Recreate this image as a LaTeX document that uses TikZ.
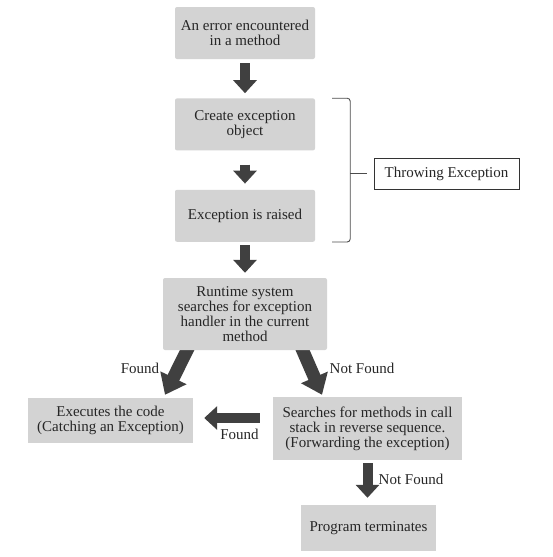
\documentclass[tikz,border=0pt]{standalone}
\usepackage{fontspec}
\setmainfont{Liberation Serif}
\usetikzlibrary{arrows.meta, positioning, backgrounds}

\definecolor{boxgray}{HTML}{D3D3D3}
\definecolor{arrgray}{HTML}{404040}

\begin{document}
\begin{tikzpicture}[x=1pt, y=-1pt,
	node distance=39pt,
	font=\fontsize{15}{15}\selectfont,
	box/.style = {fill=boxgray, text=black!85, align=center, inner sep=0pt,
		minimum width=140pt, minimum height=52pt, rounded corners=2pt},
	sqbox/.style = {box, rounded corners=0pt},
	fat/.style = {draw=arrgray, line width=10pt, -{Triangle[width=23pt, length=13pt]}},
	fatter/.style = {draw=arrgray, line width=13pt, -{Triangle[width=28pt, length=19pt]}},
	brace/.style = {draw=black!70, line width=0.9pt},
	lbl/.style = {text=black!85, inner sep=0pt}
	]
\useasboundingbox (0,0) rectangle (552,557);
%
		\node[box] (err) at (245,33) {An error encountered\\in a method};
		\node[box] (crt) [below=of err] {Create exception\\object};
		\node[box] (rsd) [below=of crt] {Exception is raised};
		\node[box, minimum width=164pt, minimum height=72pt] (run) at (245,314)
			{Runtime system\\searches for exception\\handler in the current\\method};
		\node[sqbox, minimum width=165pt, minimum height=45pt] (exec) at (110.5,420.5)
			{Executes the code\\(Catching an Exception)};
		\node[sqbox, minimum width=189pt, minimum height=63pt] (srch) at (367.5,428.5)
			{Searches for methods in call\\stack in reverse sequence.\\(Forwarding the exception)};
		\node[sqbox, minimum width=135pt, minimum height=46pt] (term) at (368.5,528)
			{Program terminates};
		\node[draw=black!80, line width=0.8pt, text=black!85, inner sep=0pt,
			minimum width=145pt, minimum height=31pt] (thr) at (446.5,173.5) {Throwing Exception};
%
		\draw[fat, shorten <=4pt, shorten >=5pt] (err) -- (crt);
		\draw[fat, shorten <=14pt, shorten >=6pt] (crt) -- (rsd);
		\draw[fat, shorten <=3pt, shorten >=5pt] (rsd) -- (run);
%
		\begin{pgfonlayer}{background}
		\draw[fatter] ([xshift=-55pt, yshift=6pt]run.south) -- ([xshift=54.5pt, yshift=3pt]exec.north);
		\draw[fatter] ([xshift=55pt, yshift=6pt]run.south) -- ([xshift=-45.5pt, yshift=2pt]srch.north);
		\end{pgfonlayer}
%
		\path ([yshift=10.5pt]srch.west) coordinate (fnd);
		\draw[fat, shorten <=13pt, shorten >=11pt] (fnd) -- (fnd -| exec.east);
		\draw[fat, shorten <=3pt, shorten >=7pt] (srch.south) -- (srch.south |- term.north);
%
		\coordinate (brc) at ([xshift=35pt]crt.north east);
		\draw[brace, rounded corners=3pt] ([xshift=17pt]crt.north east) -| ([xshift=35pt]rsd.south east)
			-- ([xshift=17pt]rsd.south east);
		\draw[brace] (brc |- thr.west) -- ([xshift=-7pt]thr.west);
%
		\node[lbl] (f1) at (140,368) {Found};
		\node[lbl] (nf1) at (362,368) {Not Found};
		\node[lbl] (f2) at (239.5,434) {Found};
		\node[lbl] (nf2) at (411,479) {Not Found};
\end{tikzpicture}
\end{document}
